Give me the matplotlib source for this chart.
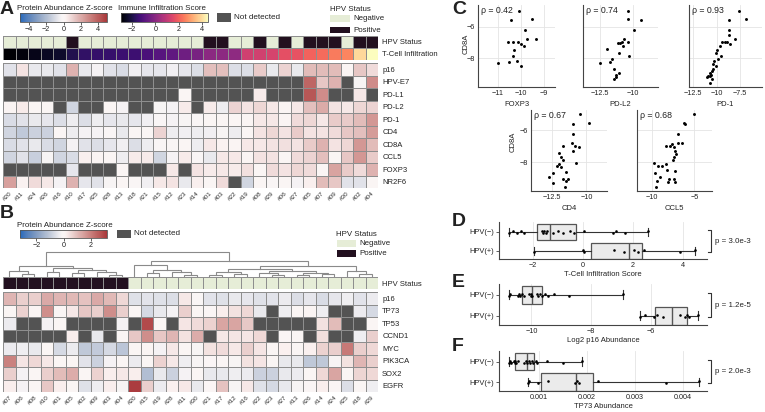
import numpy as np
import matplotlib
matplotlib.use("Agg")
import matplotlib.pyplot as plt
import seaborn as sns
from matplotlib.colors import Normalize, ListedColormap
from matplotlib.cm import ScalarMappable
from matplotlib.patches import Rectangle
from matplotlib.ticker import FormatStrFormatter
import matplotlib.transforms as mtransforms

plt.rcParams['font.family'] = ['Liberation Sans', 'DejaVu Sans']

N = np.nan
# ---------------- Panel A data ----------------
samples_A = ['#20', '#11', '#24', '#26', '#16', '#10', '#17', '#25', '#28', '#13',
             '#18', '#21', '#15', '#12', '#23', '#14', '#01', '#03', '#22', '#19',
             '#08', '#29', '#06', '#27', '#05', '#07', '#09', '#30', '#02', '#04']
hpv_A = [0, 0, 0, 0, 0, 1, 0, 0, 0, 0, 0, 0, 0, 0, 0, 0, 1, 1, 0, 0,
         1, 0, 1, 0, 1, 1, 1, 0, 1, 1]
tcell_A = [-2.95, -2.78, -2.62, -2.48, -2.35, -1.93, -1.64, -1.58, -1.53, -1.46,
           -1.41, -1.20, -0.97, -0.79, -0.52, -0.35, 0.00, 0.04, 0.07, 1.22,
           1.25, 1.34, 1.65, 1.71, 2.05, 2.20, 2.45, 2.60, 3.90, 4.50]
proteins_A = ['p16', 'HPV-E7', 'PD-L1', 'PD-L2', 'PD-1', 'CD4', 'CD8A', 'CCL5', 'FOXP3', 'NR2F6']
p16_A = [-0.8, 0.6, -0.6, -0.6, -0.8, 1.8, -0.6, -0.3, -0.8, -1.0, -0.4, -0.7, -0.7, -0.4, -0.7,
         -0.9, 1.5, 1.5, -0.9, -0.9, 1.2, -0.6, 1.0, -0.6, 1.6, 1.6, 1.6, 0.1, 1.3, 0.8]
hpve7_A = [N, N, N, N, N, N, N, N, N, N, N, N, N, N, N,
           N, N, N, N, N, N, N, N, N, 3.8, 1.3, 1.8, N, -0.2, 2.8]
pdl1_A = [N, N, N, N, N, N, N, N, N, N, N, N, N, N, 0.0,
          N, N, N, N, N, 0.4, N, N, N, 4.2, 2.8, N, N, 0.5, N]
pdl2_A = [0.1, 0.4, 0.0, 0.0, N, -1.2, N, N, 0.0, -0.3, N, N, -0.2, -0.3, 0.4,
          N, 0.4, -0.5, 1.0, 0.6, 0.9, 0.5, 0.1, 0.5, 1.5, 2.0, 0.6, 0.5, 0.9, 1.0]
pd1_A = [-1.0, -0.8, -0.6, -0.7, -0.9, -0.5, -0.9, -0.5, -0.7, -0.6, -0.7, -0.4, -0.1, -0.3, -0.2,
         -0.1, 0.0, 0.0, 0.0, 0.1, 0.5, 0.5, 0.1, 0.8, 0.9, 0.5, 1.2, 1.2, 1.6, 2.5]
cd4_A = [-1.2, -1.6, -1.3, -1.3, 0.0, -0.5, -0.3, -0.3, -0.1, -0.6, 0.0, 0.0, 1.0, -0.5, -0.4,
         -0.5, -0.4, -0.2, -0.5, 0.0, 0.6, 0.9, 0.6, 1.2, 0.6, 0.6, 0.8, 1.3, 1.5, 2.4]
cd8a_A = [-1.0, -0.8, -0.6, -1.0, -1.2, -0.3, -0.8, -0.9, -0.7, -0.4, -0.9, -0.5, -0.1, -0.1, 0.0,
          -0.5, 0.5, 0.2, 0.1, 0.5, 0.5, 0.6, 0.7, 0.6, 1.2, 1.8, 0.6, 0.9, 2.5, 1.6]
ccl5_A = [-1.2, -0.8, -1.4, -0.2, -1.2, -1.0, 0.3, 0.1, 0.0, -0.5, 0.4, 0.4, -1.2, -0.3, 0.4,
          -0.1, -0.6, 0.5, 0.5, 0.1, 0.6, 0.6, 0.0, 0.8, 1.0, 1.5, 0.0, 1.3, 2.5, 1.2]
foxp3_A = [N, N, N, N, N, -0.7, N, N, N, 0.0, N, N, N, 0.5, N,
           0.6, 0.4, 0.5, 0.4, 0.7, 0.0, 0.8, 0.6, 0.9, 0.8, 0.0, 2.2, 1.2, 0.8, 1.8]
nr2f6_A = [2.3, 0.2, 0.8, 0.5, -0.3, 1.8, -0.7, -0.8, -0.2, 0.0, -0.1, -0.4, 0.5, 0.6, -0.6,
           0.3, 0.0, 0.8, N, -1.2, 0.0, -0.1, 0.0, -0.3, 0.3, 1.6, 1.3, -0.8, -0.8, 0.0]

# ---------------- Panel B data ----------------
samples_B = ['#07', '#06', '#08', '#10', '#01', '#05', '#02', '#09', '#03', '#04',
             '#20', '#15', '#19', '#28', '#11', '#30', '#21', '#17', '#12', '#16',
             '#22', '#23', '#27', '#13', '#26', '#14', '#24', '#25', '#18', '#29']
hpv_B = [1, 1, 1, 1, 1, 1, 1, 1, 1, 1, 0, 0, 0, 0, 0, 0, 0, 0, 0, 0,
         0, 0, 0, 0, 0, 0, 0, 0, 0, 0]
proteins_B = ['p16', 'TP73', 'TP53', 'CCND1', 'MYC', 'PIK3CA', 'SOX2', 'EGFR']
p16_B = [1.1, 0.7, 0.7, 1.3, 1.1, 1.05, 0.9, 1.3, 1.05, 0.55, -0.55, -0.5, -0.55, -0.6, 0.3,
         -0.1, -0.5, -0.55, -0.4, -0.45, -0.55, -0.5, -0.35, -0.6, -0.45, -0.65, -0.45, -0.3, -0.5, -0.35]
tp73_B = [0.0, 0.65, 0.05, 1.75, 0.0, 0.3, 0.85, 0.7, 1.75, 0.7, 0.0, -0.7, -0.4, -0.2, 0.7,
          0.0, -0.05, 0.2, 0.4, 0.55, -0.4, N, -0.3, 0.0, 0.05, -0.3, N, N, -0.35, -0.7]
tp53_B = [-0.35, N, N, -0.2, 0.0, N, N, N, N, -0.2, N, 2.9, 0.0, N, 0.35,
          0.5, 0.65, 1.4, 1.4, 0.8, N, N, N, N, N, 0.4, 1.0, N, N, 0.0]
ccnd1_B = [N, N, N, N, N, 0.2, N, -0.4, N, 0.0, 0.85, 1.75, 0.85, 1.1, 0.4,
           1.25, N, 0.3, 0.35, 0.35, 0.55, N, -0.05, 0.0, N, 0.45, N, N, -0.3, 0.7]
myc_B = [-0.35, -0.3, -0.4, 0.0, -0.7, -0.35, -1.05, -1.0, -0.7, -1.1, 0.0, 0.05, -0.2, 0.3, 0.0,
         -0.15, 0.4, 0.5, 0.3, 0.7, 0.35, 0.0, 0.15, 0.0, 0.15, 0.65, 0.7, 2.1, 0.7, 0.55]
pik3ca_B = [1.95, 0.35, 0.55, 0.3, 0.0, 0.0, -0.5, -0.85, -0.2, 0.0, -0.35, 0.0, 0.65, 0.3, -0.3,
            -0.15, -0.05, 0.0, -0.15, 0.4, 0.35, 0.0, -0.4, -0.4, -1.05, -1.05, -0.15, 0.4, 1.1, 0.7]
sox2_B = [0.7, -0.2, 0.0, 0.7, 1.0, 1.25, 0.0, 0.65, 0.2, 0.3, 0.2, -1.25, -0.4, -0.85, -0.2,
          0.0, -0.4, -0.4, -0.3, -0.35, -0.85, -0.85, -0.4, -0.35, 0.0, 0.55, 1.4, 0.0, 0.6, 0.55]
egfr_B = [0.2, -0.2, 0.0, 0.85, 0.2, 0.0, -0.55, -0.3, 0.2, -0.15, 3.1, 0.7, -0.35, 0.15, 0.3,
          -0.4, -0.05, 0.9, -0.15, 0.3, -0.55, -0.7, -0.4, -0.15, -0.05, 0.2, -0.05, -0.6, 0.0, -0.3]
# dendrogram: (merge height, left, right), leaves = column index
tree_B = (10.0,
          (4.6, (2.4, 0, (1.4, 1, 2)),
                (3.6, (2.0, 3, 4), (2.8, (1.6, 5, 6), (2.0, 7, (0.8, 8, 9))))),
          (6.4, (4.8, 10, (3.0, (1.6, 11, 12), (2.2, 13, (1.0, 14, 15)))),
                (4.4, (3.2, (2.2, (1.0, 16, 17), (1.4, 18, 19)),
                            (2.6, (1.6, 20, (0.8, 21, 22)), (1.8, (1.0, 23, 24), (1.2, 25, 26)))),
                      (2.4, 27, (1.2, 28, 29)))))

# ---------------- Panel C data ----------------
foxp3_C = [-10.06, -10.43, -9.49, -9.81, -9.74, -9.35, -10.54, -10.35, -10.10, -10.0, -9.88, -10.29,
           -10.35, -10.17, -10.49, -11.01, -10.0]
cd8a_foxp3_C = [-4.99, -5.58, -5.52, -6.21, -6.78, -6.78, -6.99, -6.99, -6.99, -7.09, -7.26, -7.47,
                -7.89, -8.17, -8.27, -8.32, -8.53]
pdl2_C = [-10.33, -10.33, -9.39, -9.90, -10.64, -10.79, -10.97, -11.15, -10.36, -10.71, -11.94, -11.02,
          -10.26, -11.61, -11.73, -12.5, -11.40, -11.02, -11.28, -11.43, -11.30]
cd8a_pdl2_C = [-4.99, -5.54, -5.58, -6.21, -6.78, -6.99, -7.05, -7.05, -6.99, -7.26, -7.43, -7.68,
               -7.89, -8.06, -8.27, -8.32, -8.69, -8.95, -9.05, -9.33, -9.20]
pd1_C = [-7.68, -6.86, -8.75, -8.75, -8.75, -8.11, -9.11, -9.46, -8.86, -8.64, -9.64, -10.0, -10.07,
         -9.54, -9.89, -10.25, -10.36, -10.07, -10.43, -10.46, -10.71, -11.0, -10.71, -10.46, -10.71,
         -10.89, -10.61]
cd8a_pd1_C = [-4.99, -5.54, -5.58, -6.21, -6.53, -6.78, -6.99, -6.99, -6.99, -7.09, -7.26, -7.47, -7.68,
              -7.89, -8.06, -8.17, -8.38, -8.53, -8.67, -8.84, -8.95, -9.20, -9.16, -9.33, -9.58,
              -9.12, -9.05]
cd4_C = [-10.44, -9.83, -10.97, -11.0, -11.70, -11.04, -10.80, -10.56, -11.0, -11.97, -11.82, -11.70,
         -12.01, -12.14, -11.82, -10.73, -11.46, -11.70, -11.46, -11.33, -12.74, -12.43, -12.43, -11.53]
cd8a_cd4_C = [-5.03, -5.55, -5.65, -6.25, -6.97, -6.82, -6.97, -7.03, -7.28, -7.44, -7.65, -7.86,
              -8.10, -8.21, -8.27, -8.02, -8.58, -9.03, -9.13, -9.05, -8.89, -8.68, -9.26, -9.55]
ccl5_C = [-5.0, -6.26, -6.06, -6.97, -8.35, -7.91, -7.64, -6.97, -6.46, -7.36, -7.32, -7.17, -7.44,
          -7.52, -9.72, -9.29, -8.82, -8.35, -8.23, -7.24, -9.69, -9.02, -8.03, -7.44, -7.32, -9.41,
          -8.15, -9.49]
cd8a_ccl5_C = [-5.03, -5.55, -5.63, -6.25, -6.97, -6.97, -6.89, -6.78, -6.78, -7.07, -7.28, -7.48,
               -7.69, -7.86, -8.02, -8.23, -8.21, -8.12, -8.47, -8.54, -8.68, -8.89, -9.03, -9.03,
               -9.20, -9.15, -9.24, -9.55]
rho_C = ['0.42', '0.74', '0.93', '0.67', '0.68']

# ---------------- Panels D-F data ----------------
p16_log2_neg = [-10.76, -10.71, -10.45, -10.42, -10.37, -10.31, -10.25, -10.08, -10.03, -10.0,
                -9.99, -9.83, -9.78, -9.72, -9.66, -9.55, -9.44, -9.24, -8.73, -6.94]
p16_log2_pos = [-6.37, -6.20, -5.88, -5.80, -5.60, -5.0, -4.85, -4.78, -4.72, -4.42]
tp73_neg = [0.000364, 0.000399, 0.00042, 0.000469, 0.000497, 0.00050, 0.000524, 0.000552, 0.000685,
            0.00072, 0.000755, 0.00079, 0.000811, 0.000846, 0.00088, 0.000944, 0.000965, 0.00117,
            0.0015, 0.0019]
tp73_pos = [0.00077, 0.00079, 0.00098, 0.00119, 0.00175, 0.0018, 0.00184, 0.00222, 0.00365, 0.00434]
pvals = ['p = 3.0e-3', 'p = 1.2e-5', 'p = 2.0e-3']

# ---------------- figure helpers ----------------
W, H = 765, 412
fig = plt.figure(figsize=(W / 100, H / 100), dpi=100)


def rect(x0, y0, x1, y1):
    return [x0 / W, 1 - y1 / H, (x1 - x0) / W, (y1 - y0) / H]


def fx(x):
    return x / W


def fy(y):
    return 1 - y / H


EDGE = '#8e8e8e'
NA_C = '#535353'
NEG_C = '#e6edd7'
POS_C = '#22101f'
TXT = '#222222'
FS_LBL = 5.5     # general labels
FS_TICK = 5.2    # tick labels

z_cmap = sns.color_palette('vlag', as_cmap=True).copy()
z_cmap.set_bad(NA_C)
hpv_cmap = ListedColormap([NEG_C, POS_C])
inf_cmap = plt.get_cmap('magma')


def draw_rows(ax, mat, cmap, norm, y_start=0):
    m = np.ma.masked_invalid(np.asarray(mat, float))
    nr, nc = m.shape
    ax.pcolormesh(np.arange(nc + 1), np.arange(y_start, y_start + nr + 1), m, cmap=cmap, norm=norm,
                  edgecolors=EDGE, linewidth=0.6)


def finish_heat(ax, nr, nc, row_labels=None, col_labels=None):
    ax.set_xlim(0, nc)
    ax.set_ylim(nr, 0)
    for s in ax.spines.values():
        s.set_visible(False)
    if row_labels is not None:
        ax.yaxis.tick_right()
        ax.set_yticks(np.arange(nr) + 0.5)
        ax.set_yticklabels(row_labels, fontsize=5.5, color=TXT)
        ax.tick_params(axis='y', length=0, pad=3)
    else:
        ax.set_yticks([])
    if col_labels is not None:
        ax.set_xticks(np.arange(nc) + 0.5)
        ax.set_xticklabels(col_labels, fontsize=4.6, rotation=45, ha='right',
                           rotation_mode='anchor', color='#333333')
        ax.tick_params(axis='x', length=0, pad=2)
    else:
        ax.set_xticks([])


def hcbar(x0, y0, x1, y1, cmap, norm, ticks, title):
    cax = fig.add_axes(rect(x0, y0, x1, y1))
    cb = fig.colorbar(ScalarMappable(norm=norm, cmap=cmap), cax=cax, orientation='horizontal', ticks=ticks)
    cb.outline.set_linewidth(0.6)
    cb.outline.set_edgecolor('#555555')
    cax.tick_params(labelsize=FS_TICK, length=2, width=0.5, pad=1, colors=TXT)
    fig.text(fx(x0 - 3), fy(y0 - 2.5), title, fontsize=5.7, ha='left', va='baseline', color=TXT)


def fig_patch(x0, y0, x1, y1, color):
    fig.add_artist(Rectangle((fx(x0), fy(y1)), (x1 - x0) / W, (y1 - y0) / H,
                             transform=fig.transFigure, facecolor=color, edgecolor='none'))


def hpv_legend(x, y_title, y_neg, y_pos):
    fig.text(fx(x), fy(y_title), 'HPV Status', fontsize=5.7, ha='left', va='baseline', color=TXT)
    fig_patch(x, y_neg - 3.6, x + 19.5, y_neg + 3.6, NEG_C)
    fig_patch(x, y_pos - 3.4, x + 19.5, y_pos + 3.4, POS_C)
    fig.text(fx(x + 23), fy(y_neg), 'Negative', fontsize=5.7, ha='left', va='center', color=TXT)
    fig.text(fx(x + 23), fy(y_pos), 'Positive', fontsize=5.7, ha='left', va='center', color=TXT)


def letter(x, y, s):
    fig.text(fx(x), fy(y), s, fontsize=14, fontweight='bold', ha='left', va='top', color='#222222')


# ================= Panel A =================
letter(0, 0.5, 'A')
z_norm_A = Normalize(-5, 5)
inf_norm = Normalize(min(tcell_A), max(tcell_A))
hcbar(20, 13, 107, 22, z_cmap, z_norm_A, [-4, -2, 0, 2, 4], 'Protein Abundance Z-score')
hcbar(121, 13, 208, 22, inf_cmap, inf_norm, [-2, 0, 2, 4], 'Immune Infiltration Score')
fig_patch(217, 13, 231, 22, NA_C)
fig.text(fx(234), fy(17.5), 'Not detected', fontsize=5.9, ha='left', va='center', color=TXT)
hpv_legend(330, 11, 18.5, 30)

ax_annA = fig.add_axes(rect(3, 36, 378, 60))
draw_rows(ax_annA, [hpv_A], hpv_cmap, Normalize(0, 1), 0)
draw_rows(ax_annA, [tcell_A], inf_cmap, inf_norm, 1)
finish_heat(ax_annA, 2, len(samples_A), ['HPV Status', 'T-Cell Infiltration'])

matA = [p16_A, hpve7_A, pdl1_A, pdl2_A, pd1_A, cd4_A, cd8a_A, ccl5_A, foxp3_A, nr2f6_A]
ax_A = fig.add_axes(rect(3, 63, 378, 188))
draw_rows(ax_A, matA, z_cmap, z_norm_A)
finish_heat(ax_A, len(proteins_A), len(samples_A), proteins_A, samples_A)

# ================= Panel B =================
letter(0, 205, 'B')
z_norm_B = Normalize(-3.2, 3.2)
hcbar(20, 229.5, 107, 237.5, z_cmap, z_norm_B, [-2, 0, 2], 'Protein Abundance Z-score')
fig_patch(117, 229.5, 131, 238, NA_C)
fig.text(fx(134), fy(233.8), 'Not detected', fontsize=5.9, ha='left', va='center', color=TXT)
hpv_legend(336.5, 235.5, 243.7, 253.5)

ax_den = fig.add_axes(rect(3, 252, 378, 277))
ax_den.set_xlim(0, len(samples_B))
ax_den.set_ylim(0, 10)
ax_den.axis('off')


def draw_tree(node):
    if isinstance(node, int):
        return node + 0.5, 0.0
    h, left, right = node
    xl, hl = draw_tree(left)
    xr, hr = draw_tree(right)
    ax_den.plot([xl, xl, xr, xr], [hl, h, h, hr], color='#8a8a8a', lw=0.8, clip_on=False,
                solid_joinstyle='miter')
    return (xl + xr) / 2, h


draw_tree(tree_B)

ax_annB = fig.add_axes(rect(3, 277, 378, 289))
draw_rows(ax_annB, [hpv_B], hpv_cmap, Normalize(0, 1), 0)
finish_heat(ax_annB, 1, len(samples_B), ['HPV Status'])

matB = [p16_B, tp73_B, tp53_B, ccnd1_B, myc_B, pik3ca_B, sox2_B, egfr_B]
ax_B = fig.add_axes(rect(3, 292, 378, 392))
draw_rows(ax_B, matB, z_cmap, z_norm_B)
finish_heat(ax_B, len(proteins_B), len(samples_B), proteins_B, samples_B)

# ================= Panel C =================
letter(452, 0.5, 'C')


def style_axes(ax, grid_axis='both'):
    for side in ['top', 'right']:
        ax.spines[side].set_visible(False)
    for side in ['left', 'bottom']:
        ax.spines[side].set_color('#444444')
        ax.spines[side].set_linewidth(0.8)
    ax.grid(True, axis=grid_axis, color='#e4e4e4', lw=0.6)
    ax.set_axisbelow(True)
    ax.tick_params(labelsize=FS_TICK, length=0, pad=2.2, colors=TXT)


scatter_specs = [
    (rect(478, 5, 555, 87), foxp3_C, cd8a_foxp3_C, 'FOXP3', (-11.86, -8.51), [-11, -10, -9], True),
    (rect(583, 5, 658, 87), pdl2_C, cd8a_pdl2_C, 'PD-L2', (-13.83, -8.04), [-12.5, -10], False),
    (rect(689, 5, 762, 87), pd1_C, cd8a_pd1_C, 'PD-1', (-12.96, -5.18), [-12.5, -10, -7.5], False),
    (rect(531, 110, 607, 191), cd4_C, cd8a_cd4_C, 'CD4', (-14.03, -8.5), [-12.5, -10], True),
    (rect(637, 110, 712, 191), ccl5_C, cd8a_ccl5_C, 'CCL5', (-11.77, -2.91), [-10, -5], False),
]
for i, (pos, xs, ys, lab, xl, xt, show_y) in enumerate(scatter_specs):
    ax = fig.add_axes(pos)
    style_axes(ax)
    ax.scatter(xs, ys, s=4.5, color='black', linewidths=0, zorder=3)
    ax.set_xlim(*xl)
    ax.set_ylim((-9.83, -4.63) if i < 3 else (-9.77, -4.76))
    ax.set_xticks(xt)
    ax.set_xticklabels([('%g' % t).replace('-', '\u2212') for t in xt])
    ax.set_yticks([-8, -6])
    if show_y:
        ax.set_yticklabels(['\u22128', '\u22126'])
    else:
        ax.set_yticklabels([])
    ax.set_xlabel(lab, fontsize=FS_LBL, labelpad=2.5, color=TXT)
    ax.text(0.04, 0.93, '\u03c1 = ' + rho_C[i], transform=ax.transAxes, fontsize=6.3,
            ha='left', va='center', color=TXT)

fig.text(fx(466), fy(44), 'CD8A', rotation=90, fontsize=FS_LBL, ha='center', va='center', color=TXT)
fig.text(fx(513), fy(142), 'CD8A', rotation=90, fontsize=FS_LBL, ha='center', va='center', color=TXT)

# ================= Panels D-F =================
tcell_neg = [v for v, h in zip(tcell_A, hpv_A) if h == 0]
tcell_pos = [v for v, h in zip(tcell_A, hpv_A) if h == 1]

box_specs = [
    ('D', 213, (222, 259), tcell_neg, tcell_pos, (-3.34, 4.98), [-2, 0, 2, 4], None,
     'T-Cell Infiltration Score'),
    ('E', 274, (284, 325), p16_log2_neg, p16_log2_pos, (-11.09, -4.11), [-10, -8, -6], None,
     'Log2 p16 Abundance'),
    ('F', 338, (351, 391), tp73_neg, tp73_pos, (0.00016, 0.00451), [0.001, 0.002, 0.003, 0.004],
     '%.3f', 'TP73 Abundance'),
]
for k, (L, ly, (y0, y1), neg, pos, xl, xt, fmt, xlab) in enumerate(box_specs):
    letter(452, ly, L)
    ax = fig.add_axes(rect(499, y0, 707, y1))
    style_axes(ax, grid_axis='x')
    ax.boxplot([pos, neg], positions=[0, 1], orientation='horizontal', widths=0.84, whis=(0, 100),
               patch_artist=True, showfliers=False,
               boxprops=dict(facecolor='#ebebeb', edgecolor='#555555', linewidth=0.9),
               medianprops=dict(color='#555555', linewidth=1.0),
               whiskerprops=dict(color='#333333', linewidth=0.8),
               capprops=dict(color='#333333', linewidth=0.8))
    for grp, yc in ((neg, 1), (pos, 0)):
        off = np.where(np.arange(len(grp)) % 2 == 0, -0.05, 0.05)
        ax.scatter(grp, yc + off, s=3.5, color='black', linewidths=0, zorder=4)
    ax.set_xlim(*xl)
    ax.set_ylim(-0.44, 1.52)
    ax.set_xticks(xt)
    if fmt:
        ax.xaxis.set_major_formatter(FormatStrFormatter(fmt))
    else:
        ax.set_xticklabels([('%g' % t).replace('-', '\u2212') for t in xt])
    ax.set_yticks([1, 0])
    ax.set_yticklabels(['HPV(\u2212)', 'HPV(+)'], fontsize=5.4)
    ax.tick_params(axis='y', length=2, width=0.6, color='#444444', pad=1.5)
    ax.set_xlabel(xlab, fontsize=FS_LBL, labelpad=1.5, color=TXT)
    tr = mtransforms.blended_transform_factory(ax.transAxes, ax.transData)
    ax.plot([1.006, 1.018, 1.018, 1.006], [1.08, 1.08, -0.06, -0.06], transform=tr,
            color='#333333', lw=0.8, clip_on=False)
    ax.text(1.04, 0.51, pvals[k], transform=tr, fontsize=5.7, ha='left', va='center', color=TXT)

fig.savefig('out.png', dpi=100)
